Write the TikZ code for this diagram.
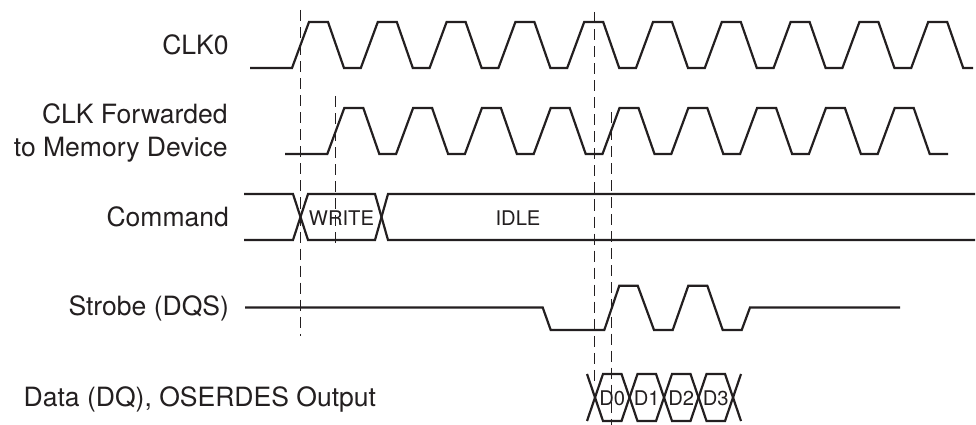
\documentclass[tikz,border=0pt]{standalone}
\usepackage{fontspec}
\setmainfont{TeX Gyre Heros}
\usepackage{xcolor}
\definecolor{ink}{HTML}{231F20}

\begin{document}
\begin{tikzpicture}[
  x=0.02cm, y=-0.02cm,
  every node/.style={inner sep=0pt, text=ink},
  signame/.style={anchor=base east, align=right, font=\fontsize{15.1}{18.8}\selectfont},
  busval/.style={font=\fontsize{11.5}{13}\selectfont},
  wave/.style={draw=ink, line width=1.25pt},
  marker/.style={draw=ink, line width=0.6pt, dash pattern=on 6.3pt off 3.4pt}
]
\useasboundingbox (0,0) rectangle (976,425);

\node[signame] (clk0)    at (229,55)    {CLK0};
\node[signame] (clkfwd)  at (228,156.7) {CLK Forwarded\\to Memory Device};
\node[signame] (command) at (229.3,226.7) {Command};
\node[signame] (strobe)  at (229.3,316) {Strobe (DQS)};
\node[signame, anchor=base west] (data) at (23.3,406) {Data (DQ), OSERDES Output};

\draw[wave] (250,68) foreach \k in {0,...,9} {
  -- ({292+68.8*\k},68) -- ({309+68.8*\k},22) -- ({328+68.8*\k},22) -- ({344+68.8*\k},68)
} -- (973,68);
\draw[wave] (285,154) foreach \k in {0,...,8} {
  -- ({327.3+68.8*\k},154) -- ({344.3+68.8*\k},108) -- ({363.3+68.8*\k},108) -- ({379.3+68.8*\k},154)
} -- (948,154);

\draw[wave] (244,194) -- (293,194) -- (308,240) -- (375,240) -- (388,194) -- (975,194);
\draw[wave] (244,240) -- (293,240) -- (308,194) -- (375,194) -- (388,240) -- (975,240);
\node[busval] (write) at (341.5,218.3) {WRITE};
\node[busval] (idle)  at (518,218.3)   {IDLE};

\draw[wave] (245,307.5) -- (542.7,307.5) -- (550.7,330) -- (604.3,330) -- (619.3,285.7)
  -- (637.7,285.7) -- (654,330) -- (672.7,330) -- (688.3,285.7) -- (707.3,285.7)
  -- (722.7,330) -- (741.7,330) -- (750,307.5) -- (900,307.5);

\foreach \k in {0,...,3} {
  \draw[wave] ({595+34.5*\k},397.5) -- ({603+34.5*\k},374) -- ({621.5+34.5*\k},374)
    -- ({629.5+34.5*\k},397.5) -- ({621.5+34.5*\k},421) -- ({603+34.5*\k},421) -- cycle;
  \node[busval] (d\k) at ({612.25+34.5*\k},398.5) {D\k};
}
\draw[wave] (587,374) -- (595,397.5) -- (587,421);
\draw[wave] (741,374) -- (733,397.5) -- (741,421);

\foreach \x/\a/\b in {300.5/10/336, 335.7/96/247, 594.5/12/386, 611.7/112/425}
  \draw[marker] (\x,\a) -- (\x,\b);
\end{tikzpicture}
\end{document}
